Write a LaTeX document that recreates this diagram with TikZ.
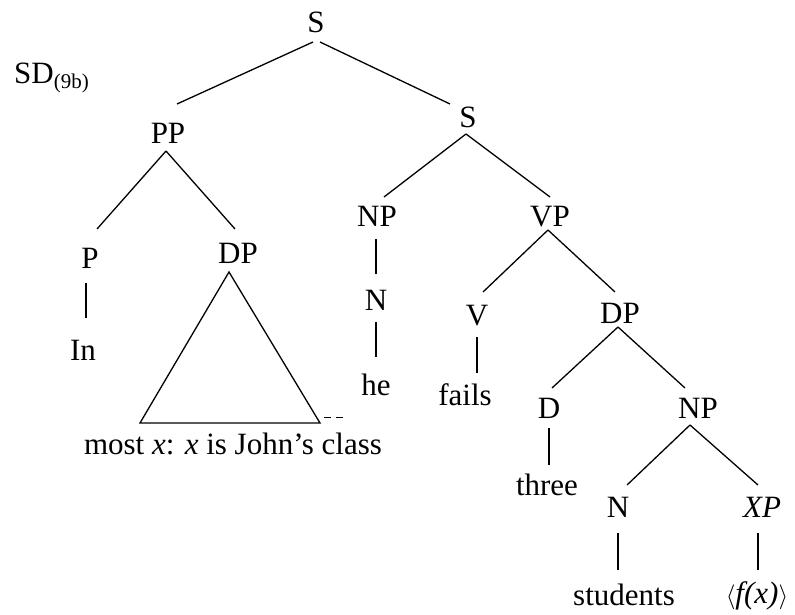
\documentclass[tikz,border=0pt]{standalone}
\usepackage{fontspec}
\setmainfont{Liberation Serif}
\usetikzlibrary{calc}
\begin{document}
\begin{tikzpicture}[x=1pt,y=-1pt,
  lbl/.style={anchor=base,inner sep=0pt,font=\fontsize{31}{31}\selectfont},
  br/.style={line width=1.3pt}]
\useasboundingbox (0,0) rectangle (795,615);
% labels
\node[lbl] (S0) at (316,33) {S};
\node[lbl,anchor=base west] (SD) at (14,84) {SD\raisebox{-5pt}{\fontsize{21}{21}\selectfont(9b)}};
\node[lbl] (PP) at (168,143) {PP};
\node[lbl] (S1) at (468,128) {S};
\node[lbl] (P) at (90,268) {P};
\node[lbl] (DP1) at (238,263) {DP};
\node[lbl] (NP1) at (377,226) {NP};
\node[lbl] (VP) at (550,226) {VP};
\node[lbl] (N1) at (376,310) {N};
\node[lbl] (V) at (477,325) {V};
\node[lbl] (DP2) at (620,323) {DP};
\node[lbl] (In) at (83,360) {In};
\node[lbl] (he) at (376,395) {he};
\node[lbl] (fails) at (465,405) {fails};
\node[lbl] (D) at (549,418) {D};
\node[lbl] (NP2) at (698,418) {NP};
\node[lbl] (three) at (547,495) {three};
\node[lbl] (N2) at (618,517) {N};
\node[lbl] (XP) at (762,517) {\textit{XP}};
\node[lbl] (stud) at (624,605) {students};
\node[lbl] (fx) at (757,603) {$\langle$\textit{f(x)}$\rangle$};
\node[lbl] (txt) at (233,454) {most \textit{x}: \textit{x} is John’s class};
% branches
\draw[br] ($(S0.base)+(-3,9)$) -- ($(PP.base)+(9,-39)$);
\draw[br] ($(S0.base)+(4,9)$) -- ($(S1.base)+(-18,-24)$);
\draw[br] ($(PP.base)+(-2,8)$) -- ($(P.base)+(7,-39)$);
\draw[br] ($(PP.base)+(-2,8)$) -- ($(DP1.base)+(-3,-34)$);
\draw[br] ($(S1.base)+(-2,6)$) -- ($(NP1.base)+(7,-29)$);
\draw[br] ($(S1.base)+(-2,6)$) -- ($(VP.base)+(0,-29)$);
\draw[br] ($(NP1.base)+(-1,13)$) -- ($(N1.base)+(0,-36)$);
\draw[br] ($(N1.base)+(0,12)$) -- ($(he.base)+(0,-38)$);
\draw[br] ($(P.base)+(-4,15)$) -- ($(In.base)+(3,-42)$);
\draw[br] ($(VP.base)+(-2,4)$) -- ($(V.base)+(6,-33)$);
\draw[br] ($(VP.base)+(-2,4)$) -- ($(DP2.base)+(-5,-31)$);
\draw[br] ($(V.base)+(0,12)$) -- ($(fails.base)+(12,-32)$);
\draw[br] ($(DP2.base)+(-2,4)$) -- ($(D.base)+(3,-30)$);
\draw[br] ($(DP2.base)+(-2,4)$) -- ($(NP2.base)+(-13,-30)$);
\draw[br] ($(D.base)+(0,10)$) -- ($(three.base)+(2,-30)$);
\draw[br] ($(NP2.base)+(-8,7)$) -- ($(N2.base)+(9,-32)$);
\draw[br] ($(NP2.base)+(-8,7)$) -- ($(XP.base)+(-4,-32)$);
\draw[br] ($(N2.base)+(0,16)$) -- ($(stud.base)+(-6,-35)$);
\draw[br] ($(XP.base)+(-4,16)$) -- ($(fx.base)+(1,-33)$);
% triangle
\draw[br,line join=miter] ($(DP1.base)+(-9,9)$) coordinate (apex)
  -- ($(DP1.base)+(-98,160)$) coordinate (bl)
  -- ($(DP1.base)+(82,160)$) coordinate (brc) -- cycle;
\draw[line width=1pt,dash pattern=on 7pt off 5pt] ($(brc)+(4,-6)$) -- ($(brc)+(23,-6)$);
\end{tikzpicture}
\end{document}
